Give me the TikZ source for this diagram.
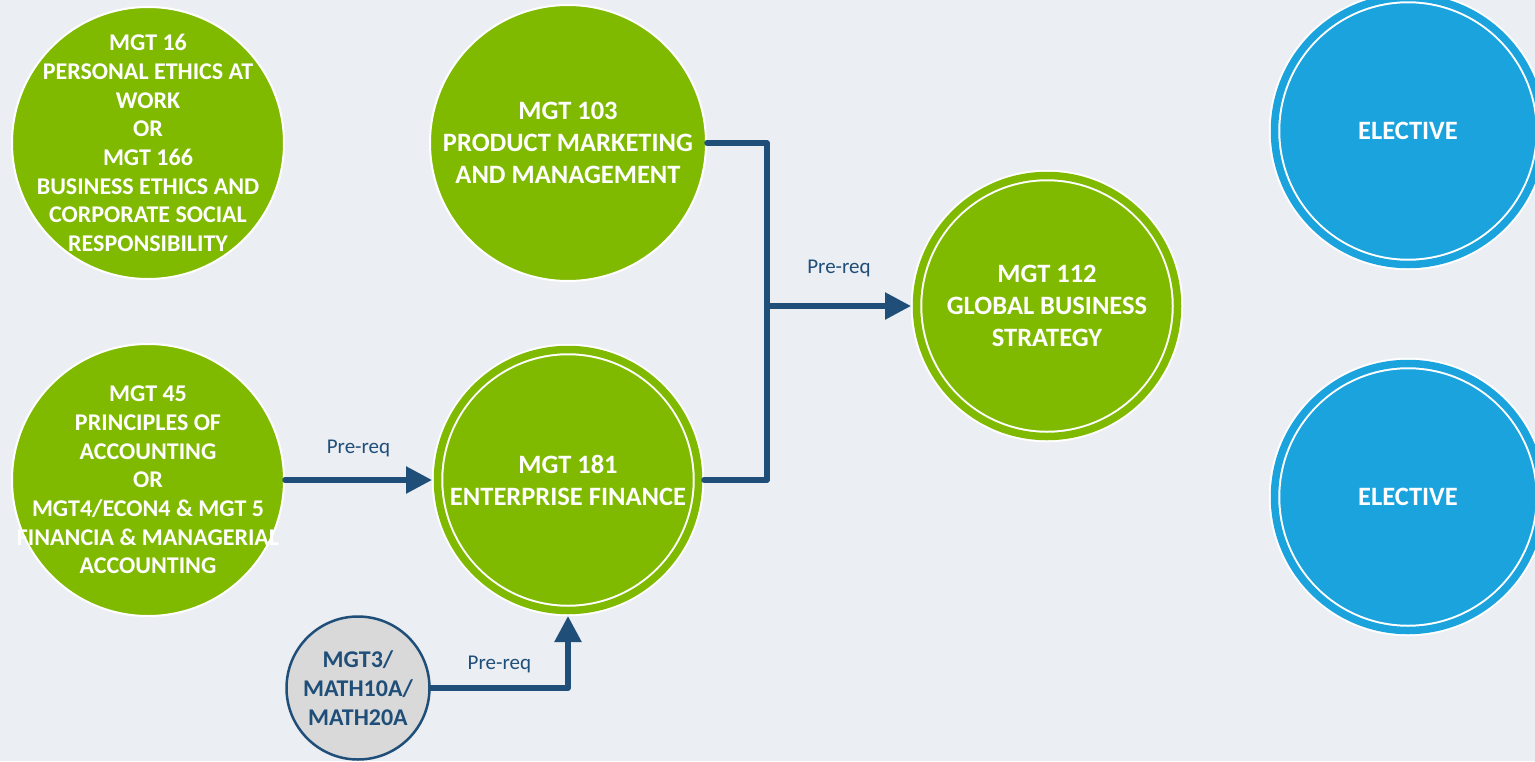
\documentclass[tikz,border=0pt]{standalone}
\usepackage{fontspec}
\setmainfont{Carlito}
\usetikzlibrary{arrows.meta}
\definecolor{courseGreen}{HTML}{7FBA00}
\definecolor{electiveBlue}{HTML}{1AA3DD}
\definecolor{linkBlue}{HTML}{1F4E79}
\definecolor{mathGray}{HTML}{D9D9D9}
\definecolor{pageBg}{HTML}{EBEEF2}

\begin{document}
\begin{tikzpicture}[x=1pt,y=-1pt]
    \tikzset{% This is the style settings for the course circles
    course/.style={circle,inner sep=0pt,minimum size=272pt,fill=courseGreen,draw=white,line width=2pt},
    ring/.style={circle,inner sep=0pt,minimum size=261pt,fill=#1,draw=white,line width=2pt,double=#1,double distance=7.5pt,outer sep=5.5pt},
    mathball/.style={circle,inner sep=0pt,minimum size=143pt,fill=mathGray,draw=linkBlue,line width=2.5pt},
    bigtext/.style={text=white,align=center,font=\fontsize{26.5}{32}\selectfont\bfseries},
    smalltext/.style={text=white,align=center,font=\fontsize{24}{28.7}\selectfont\bfseries},
    prereq/.style={draw=linkBlue,line width=5.5pt,line join=round,line cap=round,-{Triangle[length=26pt,width=26pt]}},
    tag/.style={text=linkBlue,inner sep=0pt,font=\fontsize{21}{24}\selectfont},
    }
    \clip (0,0) rectangle (1535,761);
    \fill[pageBg] (0,0) rectangle (1535,761);

    % Nodes
    \node[course,label={[smalltext]center:{MGT 16\\PERSONAL ETHICS AT\\WORK\\OR\\MGT 166\\BUSINESS ETHICS AND\\CORPORATE SOCIAL\\RESPONSIBILITY}}] (mgt16) at (148,143) {};
    \node[course,label={[smalltext]center:{MGT 45\\PRINCIPLES OF\\ACCOUNTING\\OR\\MGT4/ECON4 \& MGT 5\\FINANCIA \& MANAGERIAL\\ACCOUNTING}}] (mgt45) at (148,480) {};
    \node[course,minimum size=276pt,label={[bigtext]center:{MGT 103\\PRODUCT MARKETING\\AND MANAGEMENT}}] (mgt103) at (568,143) {};
    \node[ring=courseGreen,label={[bigtext]center:{MGT 181\\ENTERPRISE FINANCE}}] (mgt181) at (568,480) {};
    \node[ring=courseGreen,label={[bigtext]center:{MGT 112\\GLOBAL BUSINESS\\STRATEGY}}] (mgt112) at (1047,306) {};
    \node[ring=electiveBlue,minimum size=267pt,label={[bigtext]center:{ELECTIVE}}] (elec1) at (1408,131) {};
    \node[ring=electiveBlue,minimum size=267pt,label={[bigtext]center:{ELECTIVE}}] (elec2) at (1408,497) {};
    \node[mathball,label={[smalltext,text=linkBlue]center:{MGT3/\\MATH10A/\\MATH20A}}] (mgt3) at (358,688) {};
    \coordinate (junc) at (767,306);

    %Edges
    \draw[prereq] (mgt45) -- node[tag,above=20pt] {Pre-req} (mgt181);
    \draw[prereq,-] (mgt103.east) -| (junc) |- (mgt181.east);
    \draw[prereq] (junc) -- node[tag,above=26pt] {Pre-req} (mgt112);
    \draw[prereq] (mgt3) -| node[tag,above=12pt,pos=0.25] {Pre-req} (mgt181);
\end{tikzpicture}
\end{document}
